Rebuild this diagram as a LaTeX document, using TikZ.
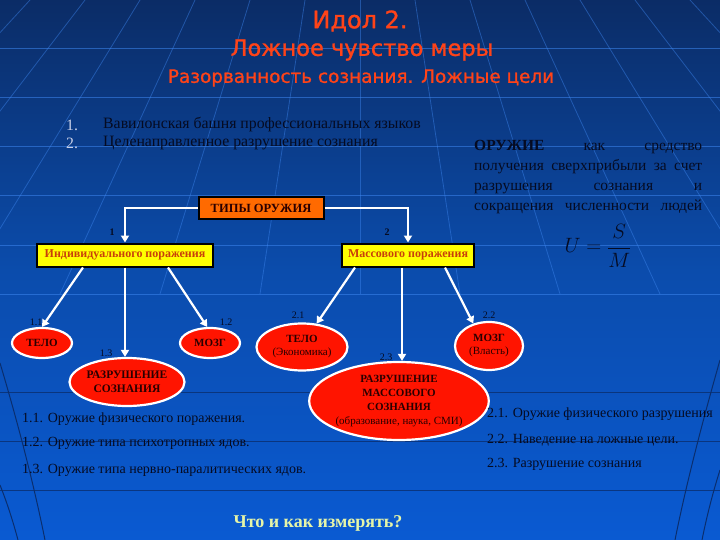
\documentclass[tikz,border=0pt]{standalone}
\usepackage{fontspec}
\setmainfont{Liberation Serif}
\newfontfamily\titlefont[FakeBold=1.2]{DejaVu Sans}
\usetikzlibrary{arrows.meta,shapes.geometric}
\definecolor{bgtop}{HTML}{0B2C66}
\definecolor{bgmid}{HTML}{0B4CAC}
\definecolor{bgbot}{HTML}{0A5AD2}
\definecolor{gridlt}{HTML}{3D86F0}
\definecolor{griddk}{HTML}{0A2E6E}
\definecolor{titlecol}{HTML}{FF4318}
\definecolor{txtdark}{HTML}{050B22}
\definecolor{numlight}{HTML}{C8D0E8}
\definecolor{boxorange}{HTML}{FF6A00}
\definecolor{boxyellow}{HTML}{FFFF00}
\definecolor{boxtext}{HTML}{C8400A}
\definecolor{ellred}{HTML}{FF1400}
\definecolor{elltext}{HTML}{2A0000}
\definecolor{askcol}{HTML}{E6F5A8}
\begin{document}
\begin{tikzpicture}[x=1pt,y=-1pt,
  conn/.style={draw=white, line width=2.2pt, -{Triangle[width=8pt,length=7pt]}},
  ttl/.style={text=titlecol, inner sep=0pt},
  listtxt/.style={text=txtdark, anchor=west, inner sep=0pt, font=\fontsize{15.8}{18}\selectfont},
  numtxt/.style={text=numlight, anchor=west, inner sep=0pt, font=\fontsize{15.8}{18}\selectfont},
  subtxt/.style={text=txtdark, anchor=west, inner sep=0pt, font=\fontsize{14}{16}\selectfont},
  lbl/.style={text=txtdark, inner sep=0pt, font=\fontsize{10}{12}\selectfont},
  typebox/.style={draw=black, line width=2pt, fill=boxorange, text=elltext, minimum width=125pt, minimum height=22pt, inner sep=0pt, font=\bfseries\fontsize{12.5}{14}\selectfont},
  ybox/.style={draw=black, line width=2pt, fill=boxyellow, text=boxtext, minimum height=23pt, inner sep=0pt, font=\bfseries\fontsize{12}{14}\selectfont},
  ell/.style={ellipse, draw=white, line width=2.2pt, fill=ellred, text=elltext, inner sep=0pt, align=center, font=\bfseries\fontsize{11}{14}\selectfont}
]
\useasboundingbox (0,0) rectangle (720,540);
% background
\shade[top color=bgtop, bottom color=bgbot, middle color=bgmid] (0,0) rectangle (720,540);
\begin{scope}
  \clip (0,0) rectangle (720,296);
  \foreach \k in {-9,...,9}
    \draw[gridlt, opacity=.45, line width=.8pt] (360+\k*55,0) -- (360+\k*100,294);
  \foreach \y in {49,98,147,196,245,294}
    \draw[gridlt, opacity=.55, line width=1pt] (0,\y) -- (720,\y);
\end{scope}
\foreach \y in {392,441,490}
  \draw[griddk, opacity=.8, line width=1pt] (0,\y) -- (720,\y);
\draw[griddk, line width=1pt] (0,363) .. controls (20,430) and (35,490) .. (45,540);
\draw[griddk, line width=1pt] (0,485) .. controls (8,505) and (14,525) .. (18,540);
\draw[griddk, line width=1pt] (720,360) .. controls (700,430) and (685,490) .. (675,540);
\draw[griddk, line width=1pt] (720,470) .. controls (712,495) and (706,520) .. (702,540);

% titles
\node[ttl, font=\titlefont\fontsize{24}{28}\selectfont] (t1) at (360,21) {Идол 2.};
\node[ttl, font=\titlefont\fontsize{22.5}{26}\selectfont] (t2) at (362,50) {Ложное чувство меры};
\node[ttl, font=\titlefont\fontsize{18.4}{22}\selectfont] (t3) at (361,78) {Разорванность сознания. Ложные цели};

% top list
\node[numtxt] (n1) at (66,125) {1.};
\node[numtxt] (n2) at (66,143) {2.};
\node[listtxt] (l1) at (103,125) {Вавилонская башня профессиональных языков};
\node[listtxt] (l2) at (103,143) {Целенаправленное разрушение сознания};

% right block
\node[anchor=north west, inner sep=0pt, text=txtdark, align=left, font=\fontsize{15.5}{20}\selectfont] (weapon) at (474,140)
  {\makebox[228pt][s]{\textbf{ОРУЖИЕ} как средство}\\
   \makebox[228pt][s]{получения сверхприбыли за счет}\\
   \makebox[228pt][s]{разрушения сознания и}\\
   \makebox[228pt][s]{сокращения численности людей}};
\node[text=txtdark, inner sep=0pt, font=\fontsize{21}{24}\selectfont] (formula) at (598,246) {$U=\displaystyle\frac{S}{M}$};

% boxes
\node[typebox] (types) at (261,208) {ТИПЫ ОРУЖИЯ};
\node[ybox, minimum width=176pt] (ind) at (125,255) {Индивидуального поражения};
\node[ybox, minimum width=132pt] (mass) at (408,255) {Массового поражения};

\draw[conn] (types.west) -| (ind.north);
\draw[conn] (types.east) -| (mass.north);
\node[lbl, font=\bfseries\fontsize{10}{12}\selectfont] (lab1) at (112,232) {1};
\node[lbl, font=\bfseries\fontsize{10}{12}\selectfont] (lab2) at (387,232) {2};

% ellipses
\node[ell, minimum width=60pt, minimum height=30pt] (body1) at (42,343) {ТЕЛО};
\node[ell, minimum width=60pt, minimum height=30pt] (brain1) at (210,343) {МОЗГ};
\node[ell, minimum width=115pt, minimum height=48pt, font=\bfseries\fontsize{11.5}{14}\selectfont] (destr1) at (127,382) {РАЗРУШЕНИЕ\\СОЗНАНИЯ};
\node[ell, minimum width=91pt, minimum height=47pt, font=\fontsize{11}{13}\selectfont] (body2) at (302,347) {\textbf{ТЕЛО}\\(Экономика)};
\node[ell, minimum width=68pt, minimum height=48pt, font=\fontsize{11}{13}\selectfont] (brain2) at (489,346) {\textbf{МОЗГ}\\(Власть)};
\node[ell, minimum width=162pt, minimum height=78pt, font=\fontsize{11}{14.2}\selectfont] (destr2) at (399,401)
  {\textbf{РАЗРУШЕНИЕ}\\\textbf{МАССОВОГО}\\\textbf{СОЗНАНИЯ}\\(образование, наука, СМИ)};

\draw[conn] ([xshift=-42pt]ind.south) -- (body1.north);
\draw[conn] (ind.south) -- (ind.south |- destr1.north);
\draw[conn] ([xshift=43pt]ind.south) -- (brain1.100);
\draw[conn] ([xshift=-53pt]mass.south) -- (body2.58);
\draw[conn] ([xshift=-6pt]mass.south) -- ([xshift=-6pt]mass.south |- destr2.north);
\draw[conn] ([xshift=37pt]mass.south) -- (brain2.125);

\node[lbl] (lab11) at (36,322) {1.1};
\node[lbl] (lab12) at (226,322) {1.2};
\node[lbl] (lab13) at (106,353) {1.3};
\node[lbl] (lab21) at (298,315) {2.1};
\node[lbl] (lab22) at (489,315) {2.2};
\node[lbl] (lab23) at (386,357) {2.3};

% bottom lists
\node[subtxt] (s11) at (22,419) {1.1. Оружие физического поражения.};
\node[subtxt] (s12) at (22,443) {1.2. Оружие типа психотропных ядов.};
\node[subtxt] (s13) at (22,470) {1.3. Оружие типа нервно-паралитических ядов.};
\node[subtxt] (s21) at (487,414) {2.1. Оружие физического разрушения};
\node[subtxt] (s22) at (487,440) {2.2. Наведение на ложные цели.};
\node[subtxt] (s23) at (487,464) {2.3. Разрушение сознания};

\node[text=askcol, inner sep=0pt, font=\bfseries\fontsize{18}{21}\selectfont] (ask) at (318,523) {Что и как измерять?};
\end{tikzpicture}
\end{document}
